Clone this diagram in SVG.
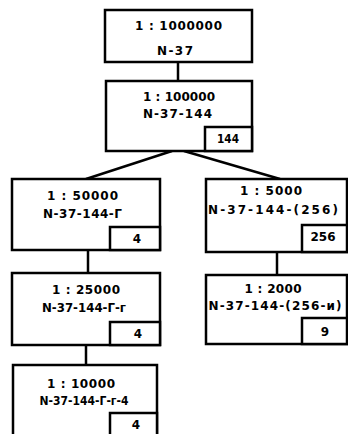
<svg xmlns="http://www.w3.org/2000/svg" width="348" height="434" viewBox="0 0 348 434">
<style>
.box{fill:#fff;stroke:#000;stroke-width:2.5}
.in{fill:#fff;stroke:#000;stroke-width:2.5}
.c{stroke:#000;stroke-width:2.5;fill:none}
text{font-family:"DejaVu Sans","Liberation Sans",sans-serif;font-weight:bold;font-size:12px;fill:#000;text-anchor:middle}
</style>
<rect width="348" height="434" fill="#fff"/>
<g id="connectors">
<line class="c" x1="178" y1="62" x2="178" y2="81"/>
<line class="c" x1="172" y1="151" x2="86" y2="179"/>
<line class="c" x1="184" y1="151" x2="280" y2="179"/>
<line class="c" x1="88" y1="250" x2="88" y2="273"/>
<line class="c" x1="86" y1="345" x2="86" y2="365"/>
<line class="c" x1="277" y1="252" x2="277" y2="275"/>
</g>
<g id="n1">
<rect class="box" x="105" y="10" width="147" height="52"/>
<text x="178.5" y="29.5" textLength="87" lengthAdjust="spacing">1 : 1000000</text>
<text x="175" y="54.5" textLength="36" lengthAdjust="spacing">N-37</text>
</g>
<g id="n2">
<rect class="box" x="106" y="81" width="146" height="70"/>
<text x="179" y="100.5" textLength="72" lengthAdjust="spacing">1 : 100000</text>
<text x="177.5" y="117.5" textLength="69" lengthAdjust="spacing">N-37-144</text>
<rect class="in" x="205" y="127" width="47" height="24"/>
<text x="228" y="143" textLength="22" lengthAdjust="spacingAndGlyphs">144</text>
</g>
<g id="n3">
<rect class="box" x="12" y="179" width="148" height="71"/>
<text x="82.5" y="199.5" textLength="71" lengthAdjust="spacing">1 : 50000</text>
<text x="82.5" y="217.5" textLength="79" lengthAdjust="spacing">N-37-144-Г</text>
<rect class="in" x="110" y="227" width="50" height="23"/>
<text x="137" y="243">4</text>
</g>
<g id="n4">
<rect class="box" x="206" y="179" width="141" height="73"/>
<text x="271" y="194.5" textLength="62" lengthAdjust="spacing">1 : 5000</text>
<text x="273" y="213.5" textLength="130" lengthAdjust="spacing">N-37-144-(256)</text>
<rect class="in" x="302" y="225" width="45" height="27"/>
<text x="323" y="241" textLength="25" lengthAdjust="spacingAndGlyphs">256</text>
</g>
<g id="n5">
<rect class="box" x="12" y="273" width="148" height="72"/>
<text x="86" y="293.5" textLength="68" lengthAdjust="spacing">1 : 25000</text>
<text x="84" y="311.5" textLength="84" lengthAdjust="spacingAndGlyphs">N-37-144-Г-г</text>
<rect class="in" x="110" y="322" width="50" height="23"/>
<text x="138" y="338">4</text>
</g>
<g id="n6">
<rect class="box" x="206" y="275" width="141" height="69"/>
<text x="273" y="292.5" textLength="57" lengthAdjust="spacing">1 : 2000</text>
<text x="275" y="309.5" textLength="133" lengthAdjust="spacing">N-37-144-(256-и)</text>
<rect class="in" x="302" y="318" width="45" height="26"/>
<text x="325" y="336">9</text>
</g>
<g id="n7">
<rect class="box" x="13" y="365" width="144" height="80"/>
<text x="81" y="387.5" textLength="68" lengthAdjust="spacing">1 : 10000</text>
<text x="84" y="404.5" textLength="89" lengthAdjust="spacingAndGlyphs">N-37-144-Г-г-4</text>
<rect class="in" x="110" y="413" width="47" height="30"/>
<text x="136" y="429">4</text>
</g>
</svg>
